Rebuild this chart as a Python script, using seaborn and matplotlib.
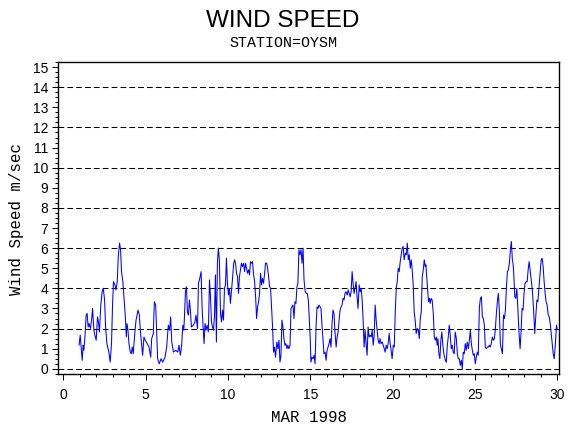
import numpy as np
import pandas as pd
import seaborn as sns
import matplotlib
matplotlib.use("Agg")
import matplotlib.pyplot as plt
from matplotlib.ticker import MultipleLocator

sns.set_style("ticks")
plt.rcParams["font.family"] = ["Liberation Sans", "DejaVu Sans"]
plt.rcParams["text.color"] = "black"

# hourly-ish wind speed readings (day of March 1998, m/sec)
days_wk1 = [0.96, 1.03, 1.15, 1.21, 1.25, 1.31, 1.39, 1.45, 1.51, 1.57,
            1.65, 1.72, 1.78, 1.86, 1.92, 2.00, 2.08, 2.14, 2.20, 2.28,
            2.36, 2.43, 2.51, 2.57, 2.65, 2.77, 2.85, 2.93, 2.99, 3.05,
            3.14, 3.20, 3.28, 3.34, 3.42, 3.48, 3.54, 3.62, 3.70, 3.77,
            3.83, 3.87, 3.93, 3.99, 4.07, 4.13, 4.19, 4.25, 4.35, 4.42,
            4.54, 4.62, 4.68, 4.76, 4.82, 4.90, 4.98, 5.10, 5.21, 5.31,
            5.37, 5.47, 5.53, 5.61, 5.67, 5.73, 5.83, 5.94, 6.04, 6.18,
            6.28, 6.38, 6.46, 6.52, 6.59, 6.69, 6.83, 6.95, 7.03, 7.11,
            7.19, 7.26, 7.32]
speed_wk1 = [1.17, 1.67, 0.42, 1.17, 0.92, 1.5, 2.67, 2.75, 2.08, 2.25,
             2.0, 2.42, 3.0, 1.92, 1.67, 1.42, 2.58, 2.33, 1.83, 3.17,
             3.83, 4.0, 3.42, 2.08, 1.25, 0.83, 0.33, 1.25, 3.08, 4.33,
             4.17, 3.92, 4.33, 5.58, 6.25, 5.92, 4.83, 4.33, 3.42, 2.58,
             1.58, 2.25, 1.92, 1.25, 0.83, 0.75, 1.08, 0.75, 1.83, 2.42,
             2.92, 2.67, 1.92, 1.17, 0.67, 1.58, 1.42, 1.25, 1.08, 0.58,
             1.5, 1.75, 3.33, 3.17, 1.92, 0.5, 0.25, 0.5, 0.33, 0.58,
             1.08, 2.17, 1.92, 2.58, 1.33, 0.83, 0.92, 0.83, 1.17, 0.67,
             1.17, 2.17, 1.92]

days_wk2 = [7.35, 7.42, 7.48, 7.54, 7.60, 7.66, 7.72, 7.78, 7.90, 8.00,
            8.06, 8.15, 8.21, 8.29, 8.37, 8.43, 8.49, 8.55, 8.61, 8.67,
            8.73, 8.81, 8.88, 8.94, 9.00, 9.06, 9.12, 9.18, 9.24, 9.30,
            9.36, 9.42, 9.48, 9.55, 9.61, 9.67, 9.73, 9.79, 9.85, 9.91,
            9.97, 10.03, 10.09, 10.15, 10.21, 10.28, 10.34, 10.40, 10.46, 10.52,
            10.58, 10.64, 10.70, 10.76, 10.82, 10.88, 10.95, 11.01, 11.07, 11.13,
            11.19, 11.25, 11.31, 11.37, 11.43, 11.49, 11.55, 11.62, 11.68, 11.74,
            11.80, 11.86, 11.92, 11.98, 12.04, 12.10, 12.16, 12.22, 12.28, 12.35,
            12.41, 12.47, 12.53, 12.59, 12.65, 12.71, 12.77, 12.83, 12.89, 12.97,
            13.04, 13.10, 13.16, 13.22, 13.28, 13.34, 13.40, 13.46, 13.52, 13.58,
            13.64, 13.70, 13.77, 13.83, 13.89, 13.95, 14.01, 14.07, 14.13, 14.19,
            14.25, 14.31, 14.37, 14.44, 14.50, 14.56, 14.62, 14.68]
speed_wk2 = [2.42, 3.83, 4.08, 2.83, 2.67, 3.42, 2.92, 2.08, 2.17, 2.33,
             2.67, 2.0, 4.25, 4.5, 4.83, 3.08, 2.08, 1.25, 2.25, 1.92,
             2.17, 1.83, 4.42, 3.58, 2.33, 2.08, 1.92, 2.58, 4.67, 1.33,
             5.25, 6.0, 5.42, 2.75, 2.33, 2.92, 2.42, 4.0, 4.17, 5.5,
             4.25, 3.67, 4.0, 3.25, 3.83, 4.5, 5.17, 5.42, 5.25, 4.75,
             4.58, 3.75, 4.58, 4.92, 5.25, 5.08, 5.25, 4.83, 5.25, 5.0,
             4.75, 4.92, 4.67, 5.33, 5.25, 5.33, 4.75, 4.33, 3.58, 2.5,
             3.08, 3.33, 3.75, 4.75, 4.17, 4.5, 4.25, 4.67, 5.25, 5.25,
             5.0, 4.58, 4.08, 4.0, 3.08, 2.08, 0.83, 1.08, 0.58, 1.33,
             1.0, 1.42, 0.33, 0.67, 2.42, 2.08, 1.5, 1.17, 1.25, 1.0,
             1.17, 1.0, 1.17, 3.0, 3.08, 3.17, 2.5, 3.33, 3.25, 4.08,
             4.25, 5.92, 5.67, 5.92, 5.25, 6.0, 4.42, 3.92]

days_wk3 = [14.70, 14.76, 14.82, 14.88, 14.94, 15.00, 15.04, 15.10, 15.17, 15.23,
            15.29, 15.35, 15.41, 15.47, 15.53, 15.59, 15.65, 15.71, 15.77, 15.83,
            15.90, 15.96, 16.02, 16.08, 16.14, 16.20, 16.26, 16.32, 16.38, 16.44,
            16.50, 16.57, 16.63, 16.69, 16.75, 16.81, 16.87, 16.93, 16.99, 17.05,
            17.11, 17.17, 17.24, 17.30, 17.36, 17.42, 17.48, 17.54, 17.60, 17.66,
            17.72, 17.78, 17.84, 17.90, 17.97, 18.03, 18.09, 18.15, 18.21, 18.27,
            18.33, 18.39, 18.45, 18.51, 18.57, 18.64, 18.70, 18.76, 18.82, 18.88,
            18.94, 19.00, 19.06, 19.12, 19.18, 19.24, 19.30, 19.37, 19.43, 19.49,
            19.55, 19.61, 19.67, 19.73, 19.79, 19.85, 19.91, 19.97, 20.04, 20.10,
            20.16, 20.22, 20.28, 20.34, 20.40, 20.46, 20.52, 20.58, 20.64, 20.70,
            20.77, 20.83, 20.89, 20.95, 21.01, 21.07, 21.13, 21.19, 21.25, 21.31,
            21.37, 21.43, 21.50, 21.56, 21.62, 21.68, 21.74, 21.80, 21.86, 21.92,
            21.98]
speed_wk3 = [3.83, 3.75, 3.75, 3.42, 2.5, 1.42, 0.33, 0.58, 0.5, 0.67,
             0.25, 2.08, 3.08, 3.0, 3.17, 3.08, 3.0, 2.17, 1.5, 0.75,
             0.83, 0.42, 0.92, 1.08, 1.25, 1.5, 1.08, 2.25, 2.92, 2.75,
             1.83, 1.08, 1.58, 1.83, 2.42, 2.92, 3.08, 3.17, 3.5, 3.42,
             3.75, 3.83, 3.67, 3.92, 3.75, 3.58, 3.83, 4.83, 4.25, 3.75,
             4.0, 4.33, 3.58, 3.0, 4.17, 3.83, 4.0, 3.42, 2.42, 1.08,
             1.92, 1.25, 0.67, 2.08, 1.58, 1.67, 1.58, 1.92, 1.17, 1.67,
             3.17, 2.42, 1.92, 1.42, 1.25, 1.5, 1.25, 1.33, 1.17, 1.0,
             0.83, 1.17, 1.0, 1.25, 1.75, 1.25, 0.92, 0.5, 1.17, 1.08,
             2.83, 4.0, 4.33, 5.0, 4.83, 5.33, 5.67, 6.0, 6.08, 5.42,
             5.75, 5.67, 6.25, 5.42, 5.67, 5.0, 5.42, 4.92, 4.17, 2.83,
             2.42, 1.75, 2.0, 1.92, 1.5, 2.5, 2.83, 4.58, 4.92, 5.42,
             5.08]

days_wk4 = [22.02, 22.06, 22.12, 22.18, 22.24, 22.28, 22.34, 22.40, 22.47, 22.53,
            22.59, 22.65, 22.71, 22.75, 22.81, 22.87, 22.93, 22.99, 23.05, 23.11,
            23.20, 23.26, 23.32, 23.38, 23.44, 23.50, 23.56, 23.62, 23.68, 23.74,
            23.80, 23.87, 23.93, 23.99, 24.05, 24.11, 24.17, 24.23, 24.29, 24.35,
            24.41, 24.47, 24.53, 24.60, 24.66, 24.72, 24.78, 24.84, 24.90, 24.96,
            25.02, 25.08, 25.14, 25.20, 25.27, 25.33, 25.39, 25.45, 25.51, 25.57,
            25.63, 25.69, 25.75, 25.81, 25.87, 25.93, 25.99, 26.06, 26.12, 26.18,
            26.24, 26.30, 26.36, 26.42, 26.48, 26.54, 26.60, 26.67, 26.73, 26.79,
            26.85, 26.91, 26.97, 27.03, 27.09, 27.15, 27.21, 27.27, 27.31, 27.35,
            27.42, 27.48, 27.54, 27.60, 27.66, 27.74, 27.80, 27.86, 27.92, 27.98,
            28.04, 28.11, 28.17, 28.23, 28.29, 28.35, 28.43, 28.49, 28.55, 28.63,
            28.69, 28.76, 28.82, 28.90, 28.96, 29.02, 29.08, 29.14, 29.20, 29.26,
            29.32, 29.38, 29.45, 29.51, 29.57, 29.63, 29.69, 29.75, 29.81, 29.87,
            29.91, 29.95, 29.99]
speed_wk4 = [5.17, 4.67, 4.0, 3.33, 3.5, 3.25, 3.5, 3.42, 2.75, 1.58,
             1.42, 1.58, 1.17, 1.5, 0.75, 0.5, 1.42, 1.83, 1.17, 0.75,
             0.42, 0.33, 1.17, 1.58, 2.17, 1.67, 1.0, 1.17, 0.83, 0.75,
             1.83, 1.5, 0.75, 0.5, 0.5, 0.17, 0.42, 0.0, 0.83, 0.75,
             1.25, 0.92, 1.33, 1.0, 1.42, 1.92, 1.25, 0.92, 0.67, 0.75,
             0.25, 0.58, 0.83, 0.67, 3.08, 3.5, 3.58, 2.58, 2.5, 2.17,
             1.08, 1.0, 1.08, 1.08, 1.17, 1.08, 1.25, 1.58, 1.42, 1.5,
             2.0, 2.75, 3.33, 3.75, 2.92, 1.25, 1.0, 0.75, 2.67, 2.5,
             2.92, 4.08, 4.83, 4.92, 5.25, 5.92, 6.33, 5.42, 5.25, 4.83,
             3.58, 3.5, 4.0, 3.08, 2.0, 1.0, 1.83, 3.0, 2.92, 3.75,
             4.25, 4.33, 4.33, 4.92, 5.33, 4.92, 4.33, 3.83, 3.08, 1.75,
             2.58, 3.42, 3.33, 4.17, 4.83, 5.42, 5.5, 5.08, 4.33, 3.75,
             3.33, 3.17, 2.67, 2.58, 2.25, 1.75, 1.25, 0.75, 0.5, 1.08,
             1.58, 2.17, 2.0]

grid_levels = [0, 2, 4, 6, 8, 10, 12, 14]
x_ticks = [0, 5, 10, 15, 20, 25, 30]
y_ticks = list(range(16))

df = pd.DataFrame({
    "day": days_wk1 + days_wk2 + days_wk3 + days_wk4,
    "speed": speed_wk1 + speed_wk2 + speed_wk3 + speed_wk4,
})

fig = plt.figure(figsize=(5.7, 4.3), dpi=100)
ax = fig.add_axes([0.1023, 0.1302, 0.8789, 0.7263])

for lvl in grid_levels:
    ax.axhline(lvl, color="black", lw=0.75, dashes=(5.5, 3), zorder=1)

sns.lineplot(data=df, x="day", y="speed", color="blue", lw=0.75,
             estimator=None, sort=False, ax=ax, zorder=2)

ax.set_xlim(-0.30, 30.12)
ax.set_ylim(-0.26, 15.27)
ax.set_xticks(x_ticks)
ax.set_yticks(y_ticks)
ax.xaxis.set_minor_locator(MultipleLocator(1))
ax.yaxis.set_minor_locator(MultipleLocator(0.25))
ax.tick_params(which="major", length=4.3, width=0.75, color="black",
               labelsize=10, labelcolor="black", direction="out")
ax.tick_params(which="minor", length=2.2, width=0.75, color="black", direction="out")
ax.tick_params(axis="x", pad=5.5)
ax.tick_params(axis="y", pad=3)
ax.set_xlabel("")
ax.set_ylabel("")
for sp in ax.spines.values():
    sp.set_color("black")
    sp.set_linewidth(1.0)

mono = "Liberation Mono"
fig.text(0.4956, 0.951, "WIND SPEED", ha="center", va="center", fontsize=17.5, color="black")
fig.text(0.4965, 0.899, "STATION=OYSM", ha="center", va="center", fontsize=10.8,
         family=mono, color="black")
fig.text(0.0293, 0.4907, "Wind Speed m/sec", ha="center", va="center",
         rotation=90, fontsize=11.3, family=mono, color="black")
fig.text(0.5417, 0.028, "MAR 1998", ha="center", va="center", fontsize=11.3,
         family=mono, color="black")

fig.savefig("out.png", dpi=100)
